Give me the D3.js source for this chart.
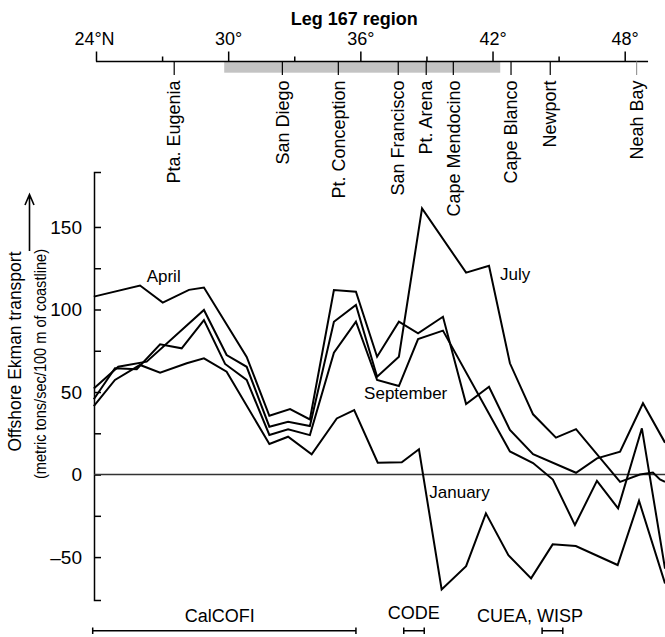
<!DOCTYPE html>
<html>
<head>
<meta charset="utf-8">
<script src="https://cdnjs.cloudflare.com/ajax/libs/d3/7.8.5/d3.min.js"></script>
<style>
  body { margin: 0; background: #fff; }
  svg { display: block; font-family: "Liberation Sans", Arial, sans-serif; }
  .series { fill: none; stroke: #000; stroke-width: 2; stroke-linejoin: miter; }
</style>
</head>
<body>
<svg id="chart"></svg>
<script>
/* global d3, document */

// top latitude axis
const latTicks = [24, 27, 30, 33, 36, 39, 42, 45, 48];
const latMajor = [24, 30, 36, 42, 48];
const latLabels = ['24°N', '30°', '36°', '42°', '48°'];
const legRegion = [29.82, 42.35];
const stations = ['Pta. Eugenia', 'San Diego', 'Pt. Conception', 'San Francisco', 'Pt. Arena',
  'Cape Mendocino', 'Cape Blanco', 'Newport', 'Neah Bay'];
const stationLats = [27.55, 32.46, 35.0, 37.72, 38.99, 40.22, 42.84, 44.62, 48.54];

// transport axis
const yTicks = [-50, -25, 0, 25, 50, 75, 100, 125, 150];
const yLabels = [-50, 0, 50, 100, 150];

// [latitude, offshore transport]
const april = [[23.9, 107.8], [26.0, 114.5], [27.03, 104.2], [28.22, 111.9], [28.9, 113.3],
  [30.84, 71.3], [31.87, 35.6], [32.81, 39.7], [33.71, 33.4], [34.8, 111.8], [35.8, 110.8],
  [36.76, 71.4], [37.75, 92.6], [38.62, 85.6], [39.75, 95.6], [40.8, 42.7], [41.84, 53.2],
  [42.79, 27], [43.84, 12.4], [45.79, 1.1], [46.74, 9.8], [47.79, 13.8], [48.83, 43.2], [49.83, 19.3]];
const july = [[23.9, 52.2], [25.01, 65.3], [26.3, 68.4], [28.9, 99.7], [29.93, 72.4], [30.84, 65.3],
  [31.87, 29], [32.72, 32], [33.71, 29.4], [34.8, 92.6], [35.8, 102.7], [36.76, 59.3], [37.75, 71.4],
  [38.8, 161.3], [40.8, 122.3], [41.84, 126.5], [42.79, 67.4], [43.84, 36.5], [44.88, 22.4],
  [45.79, 27.5], [47.79, -4.4], [48.69, 0], [49.28, 1.2], [49.6, -3], [49.83, -4.4]];
const september = [[23.9, 45.6], [24.86, 64.4], [25.85, 63.8], [26.91, 78.9], [27.89, 76.5],
  [28.9, 93.6], [29.86, 67], [30.84, 57.3], [31.87, 24], [32.72, 27.4], [33.71, 23.9], [34.8, 73.8],
  [35.8, 92.6], [36.76, 57.3], [37.75, 53.6], [38.62, 82.1], [39.75, 87.2], [42.79, 14], [43.84, 7],
  [44.74, -3], [45.74, -30.6], [46.74, -3.8], [47.7, -20.5], [48.78, 28], [49.83, -57]];
const january = [[23.9, 41.5], [24.86, 57.3], [26.0, 66.4], [26.91, 61.7], [28.12, 67.4], [28.9, 70.4],
  [29.93, 62.3], [31.87, 18.5], [32.72, 22.9], [33.79, 12.2], [34.93, 34], [35.72, 39], [36.79, 7.2],
  [37.88, 7.4], [38.66, 15.3], [39.69, -69.6], [40.8, -55.5], [41.7, -23.5], [42.72, -48.8],
  [43.75, -62.9], [44.73, -42.3], [45.78, -43.3], [47.68, -54.8], [48.65, -15.9], [49.83, -66]];

const months = ['April', 'July', 'September', 'January'];
const monthSeries = [april, july, september, january];
const monthLabelAt = [[26.3, 116.8], [42.34, 117.6], [36.17, 45.6], [39.13, -14.4]];

// data-collection programs
const programs = ['CalCOFI', 'CODE', 'CUEA, WISP'];
const programSpans = [[23.85, 35.8], [37.97, 38.9], [44.25, 45.19]];
const programLabelAt = [29.62, 38.43, 43.7];

const W = 665, H = 637;
const svg = d3.select('#chart').attr('width', W).attr('height', H);

const x = d3.scaleLinear().domain([24, 48]).range([96, 624.7]);
const y = d3.scaleLinear().domain([-76, 183.3]).range([600, 172]);
const axisY = 61.5;
const plotLeft = 94;

/* TOP AXIS */
svg.append('rect')
  .attr('x', x(legRegion[0]))
  .attr('y', axisY)
  .attr('width', x(legRegion[1]) - x(legRegion[0]))
  .attr('height', 11.2)
  .attr('fill', '#c3c3c3');

svg.append('text')
  .attr('x', x(35.72))
  .attr('y', 25)
  .attr('text-anchor', 'middle')
  .attr('font-size', 18)
  .attr('font-weight', 'bold')
  .text('Leg 167 region');

const topAxis = svg.append('g')
  .attr('transform', `translate(0,${axisY})`)
  .call(d3.axisTop(x).tickValues(latTicks).tickSizeInner(10).tickSizeOuter(0)
    .tickFormat(d => latMajor.includes(d) ? latLabels[latMajor.indexOf(d)] : ''));
topAxis.select('.domain').remove();
topAxis.selectAll('.tick line')
  .attr('stroke', '#000')
  .attr('stroke-width', 1.5)
  .attr('y2', d => latMajor.includes(d) ? -10 : -5);
topAxis.selectAll('.tick text')
  .attr('font-size', 18)
  .attr('font-family', '"Liberation Sans", Arial, sans-serif')
  .attr('fill', '#000')
  .attr('y', -16.5)
  .attr('dy', 0)
  .attr('dx', d => d === 24 ? -2 : 0);

svg.append('line')
  .attr('x1', x(24)).attr('x2', x(49.06))
  .attr('y1', axisY).attr('y2', axisY)
  .attr('stroke', '#000').attr('stroke-width', 1.5);

const st = svg.append('g').attr('class', 'stations');
st.selectAll('line')
  .data(stationLats)
  .enter()
  .append('line')
    .attr('x1', d => x(d)).attr('x2', d => x(d))
    .attr('y1', axisY).attr('y2', axisY + 13.5)
    .attr('stroke', (d, i) => i === stations.length - 1 ? '#999' : '#000')
    .attr('stroke-width', 1.2);
st.selectAll('text')
  .data(stations)
  .enter()
  .append('text')
    .attr('transform', (d, i) => `translate(${x(stationLats[i]) + 6.2},80.5) rotate(-90)`)
    .attr('text-anchor', 'end')
    .attr('font-size', 18)
    .text(d => d);

/* LOWER CHART */
const yAxis = svg.append('g')
  .attr('transform', `translate(${plotLeft},0)`)
  .call(d3.axisLeft(y).tickValues(yTicks).tickSizeInner(-7).tickSizeOuter(-7).tickPadding(12)
    .tickFormat(d => yLabels.includes(d) ? (d < 0 ? '\u2013' + Math.abs(d) : d) : ''));
yAxis.selectAll('.domain, .tick line').attr('stroke', '#000').attr('stroke-width', 1.5);
yAxis.selectAll('.tick text')
  .attr('font-size', 19)
  .attr('font-family', '"Liberation Sans", Arial, sans-serif')
  .attr('fill', '#000');

svg.append('line')
  .attr('x1', plotLeft).attr('x2', W)
  .attr('y1', y(0)).attr('y2', y(0))
  .attr('stroke', '#333').attr('stroke-width', 1.5);

const line = d3.line()
  .x(d => x(d[0]))
  .y(d => y(d[1]));

svg.append('g')
  .selectAll('path')
  .data(monthSeries)
  .enter()
  .append('path')
    .attr('class', 'series')
    .attr('d', line);

svg.append('g')
  .selectAll('text')
  .data(months)
  .enter()
  .append('text')
    .attr('x', (d, i) => x(monthLabelAt[i][0]))
    .attr('y', (d, i) => y(monthLabelAt[i][1]))
    .attr('font-size', 17)
    .text(d => d);

// axis title with arrow
svg.append('text')
  .attr('transform', `translate(21,351.5) rotate(-90)`)
  .attr('text-anchor', 'middle')
  .attr('font-size', 17.5)
  .text('Offshore Ekman transport');
svg.append('text')
  .attr('transform', `translate(45.5,364) rotate(-90)`)
  .attr('text-anchor', 'middle')
  .attr('font-size', 16.5)
  .attr('textLength', 230)
  .attr('lengthAdjust', 'spacingAndGlyphs')
  .text('(metric tons/sec/100 m of coastline)');
svg.append('path')
  .attr('d', 'M29.5,251V195M25,205L29.5,194.5L34,205')
  .attr('fill', 'none').attr('stroke', '#000').attr('stroke-width', 1.6);

/* PROGRAM BRACKETS */
const pg = svg.append('g').attr('class', 'programs');
pg.selectAll('path')
  .data(programSpans)
  .enter()
  .append('path')
    .attr('d', d => `M${x(d[0])},627.5V634M${x(d[0])},630.7H${x(d[1])}M${x(d[1])},627.5V634`)
    .attr('fill', 'none').attr('stroke', '#000').attr('stroke-width', 1.5);
pg.selectAll('text')
  .data(programs)
  .enter()
  .append('text')
    .attr('x', (d, i) => x(programLabelAt[i]))
    .attr('y', (d, i) => [622.3, 619.3, 622][i])
    .attr('text-anchor', 'middle')
    .attr('font-size', 18)
    .text(d => d);
</script>
</body>
</html>
